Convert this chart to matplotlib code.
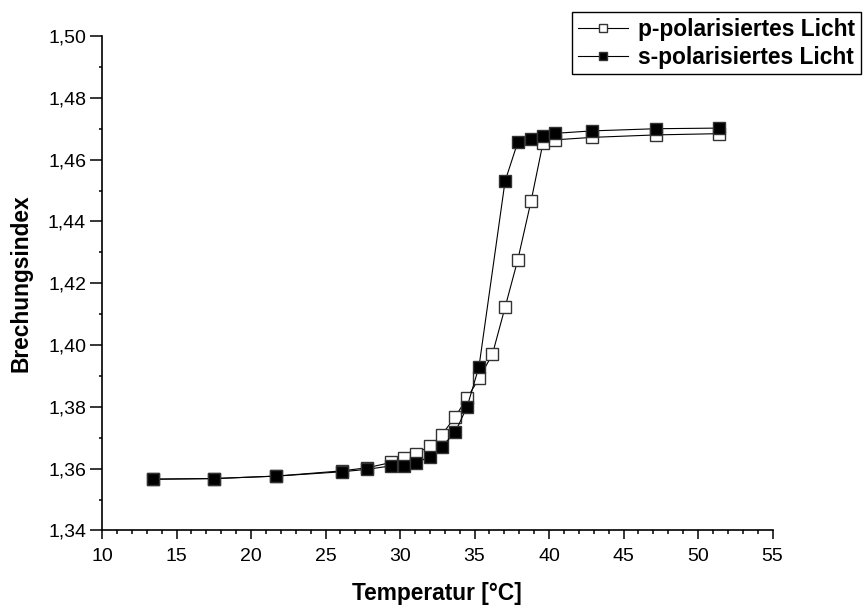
import matplotlib.pyplot as plt
from matplotlib.ticker import MultipleLocator, FuncFormatter

plt.rcParams["font.family"] = ["Liberation Sans", "DejaVu Sans"]

# p-polarised light
temp_p = [13.4, 17.5, 21.7, 26.1, 27.8, 29.4, 30.3, 31.1, 32.0, 32.8, 33.7,
          34.5, 35.3, 36.2, 37.05, 37.9, 38.8, 39.6, 40.4, 42.9, 47.2, 51.4]
n_p = [1.3566, 1.3568, 1.3576, 1.3593, 1.3603, 1.3620, 1.3634, 1.3649,
       1.3673, 1.3709, 1.3768, 1.3828, 1.3892, 1.3970, 1.4122, 1.4275,
       1.4467, 1.4655, 1.4664, 1.4672, 1.4680, 1.4684]

# s-polarised light
temp_s = [13.4, 17.5, 21.7, 26.1, 27.8, 29.4, 30.3, 31.1, 32.0, 32.8, 33.7,
          34.5, 35.3, 37.05, 37.9, 38.8, 39.6, 40.4, 42.9, 47.2, 51.4]
n_s = [1.3566, 1.3568, 1.3576, 1.3590, 1.3598, 1.3609, 1.3609, 1.3619,
       1.3639, 1.3671, 1.3718, 1.3800, 1.3930, 1.4530, 1.4656, 1.4667,
       1.4678, 1.4685, 1.4693, 1.4700, 1.4702]

fig = plt.figure(figsize=(8.64, 6.06), dpi=100)
ax = fig.add_axes([0.1181, 0.1246, 0.776, 0.816])

ax.plot(temp_p, n_p, color="black", lw=0.8, marker="s", markersize=8.5,
        markerfacecolor="white", markeredgecolor="#333333", markeredgewidth=1.0,
        label="p-polarisiertes Licht", zorder=3)
ax.plot(temp_s, n_s, color="black", lw=0.8, marker="s", markersize=8.5,
        markerfacecolor="black", markeredgecolor="#333333", markeredgewidth=1.0,
        label="s-polarisiertes Licht", zorder=4)

ax.set_xlim(10, 55)
ax.set_ylim(1.34, 1.50)
ax.xaxis.set_major_locator(MultipleLocator(5))
ax.xaxis.set_minor_locator(MultipleLocator(1))
ax.yaxis.set_major_locator(MultipleLocator(0.02))
ax.yaxis.set_minor_locator(MultipleLocator(0.01))
ax.yaxis.set_major_formatter(FuncFormatter(lambda v, _: f"{v:.2f}".replace(".", ",")))

for side in ["top", "right"]:
    ax.spines[side].set_visible(False)
for side in ["left", "bottom"]:
    ax.spines[side].set_linewidth(1.2)

ax.tick_params(axis="x", which="major", direction="out", length=6.5, width=1.1,
               labelsize=14, pad=6)
ax.tick_params(axis="x", which="minor", direction="out", length=3, width=1.1)
ax.tick_params(axis="y", which="major", direction="out", length=9, width=1.1,
               labelsize=14, pad=2.5)
ax.tick_params(axis="y", which="minor", direction="out", length=2.5, width=1.1)

ax.set_xlabel("Temperatur [°C]", fontsize=16.4, fontweight="bold")
ax.set_ylabel("Brechungsindex", fontsize=16.4, fontweight="bold")
ax.xaxis.set_label_coords(0.5, -0.105)
ax.yaxis.set_label_coords(-0.104, 0.5)

leg = ax.legend(loc="upper right", bbox_to_anchor=(0.9965, 0.9797),
                bbox_transform=fig.transFigure, borderaxespad=0, numpoints=1,
                fancybox=False, framealpha=1, edgecolor="black",
                prop={"weight": "bold", "size": 16.4}, handlelength=2.2,
                handletextpad=0.45, borderpad=0.25, labelspacing=0.2,
                markerscale=0.7)
leg.get_frame().set_linewidth(1.0)

plt.savefig("out.png", dpi=100)
plt.close()
